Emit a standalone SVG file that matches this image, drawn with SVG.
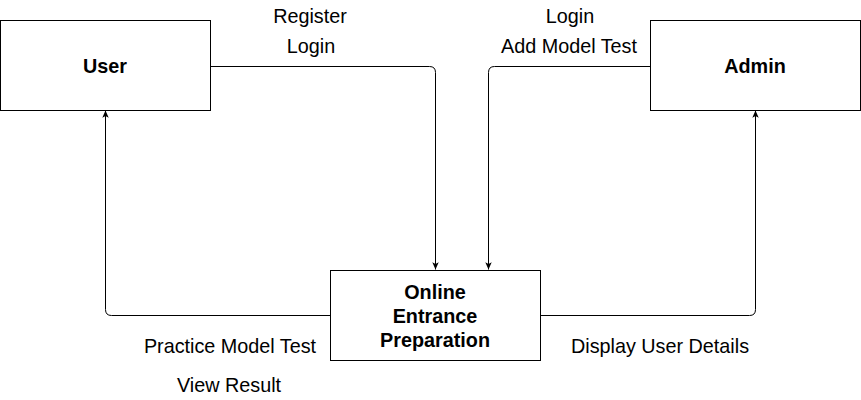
<svg xmlns="http://www.w3.org/2000/svg" width="861" height="400" viewBox="0 0 861 400">
<style>
.box{fill:#fff;stroke:#000;stroke-width:1}
.edge{fill:none;stroke:#000;stroke-width:1}
.t{font-family:"Liberation Sans",Arial,sans-serif;font-size:19.8px;fill:#000;text-anchor:middle;dominant-baseline:central}
.b{font-weight:bold}
</style>
<defs>
<marker id="arr" viewBox="0 0 10 10" refX="9" refY="5" markerWidth="8" markerHeight="8" orient="auto" markerUnits="userSpaceOnUse">
<path d="M0,1 L9,5 L0,9 L2,5 Z" fill="#000"/>
</marker>
</defs>
<rect width="861" height="400" fill="#fff"/>
<g id="connectors">
<path class="edge" d="M210.5,66.5 H429.5 Q435.5,66.5 435.5,72.5 V269.5" marker-end="url(#arr)"/>
<path class="edge" d="M650.5,66.5 H494.5 Q488.5,66.5 488.5,72.5 V269.5" marker-end="url(#arr)"/>
<path class="edge" d="M330.5,315.5 H111.5 Q105.5,315.5 105.5,309.5 V110.5" marker-end="url(#arr)"/>
<path class="edge" d="M540.5,315.5 H749.5 Q755.5,315.5 755.5,309.5 V110.5" marker-end="url(#arr)"/>
<text class="t" x="310" y="16">Register</text>
<text class="t" x="311" y="46">Login</text>
<text class="t" x="570" y="16">Login</text>
<text class="t" x="569" y="46">Add Model Test</text>
<text class="t" x="230" y="346">Practice Model Test</text>
<text class="t" x="229" y="385">View Result</text>
<text class="t" x="660" y="346">Display User Details</text>
</g>
<g id="user">
<rect class="box" x="0.5" y="20.5" width="210" height="90"/>
<text class="t b" x="105" y="66">User</text>
</g>
<g id="admin">
<rect class="box" x="650.5" y="20.5" width="210" height="90"/>
<text class="t b" x="755" y="66">Admin</text>
</g>
<g id="oep">
<rect class="box" x="330.5" y="270.5" width="210" height="90"/>
<text class="t b" x="435" y="292">Online</text>
<text class="t b" x="435" y="316">Entrance</text>
<text class="t b" x="435" y="340">Preparation</text>
</g>
</svg>
